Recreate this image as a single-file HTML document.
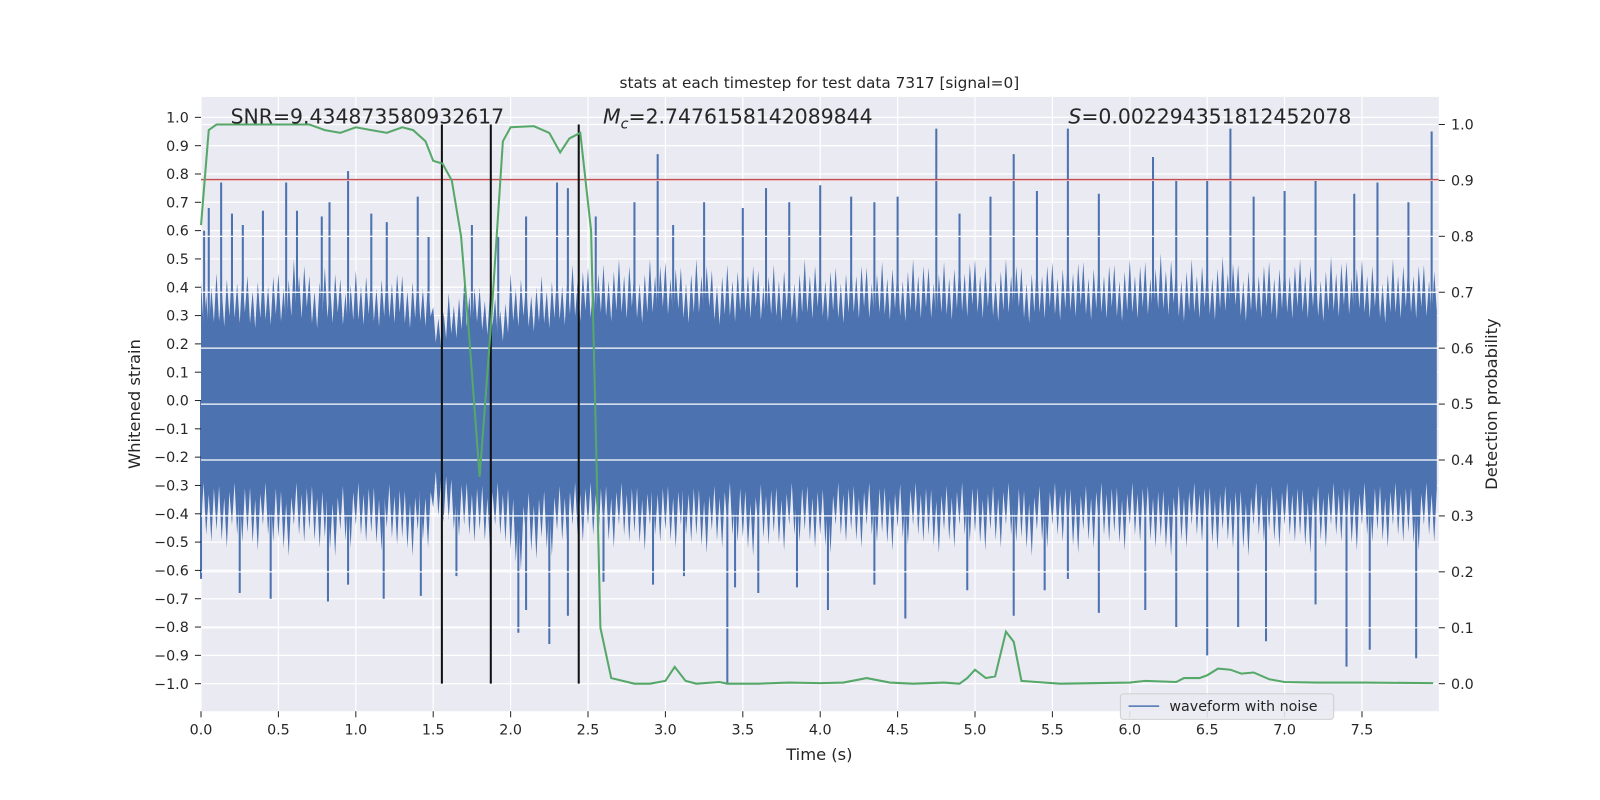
<!DOCTYPE html>
<html><head><meta charset="utf-8"><style>
html,body{margin:0;padding:0;background:#fff;overflow:hidden;}
svg{display:block;}
svg text{font-family:"DejaVu Sans","Liberation Sans",sans-serif;fill:#262626;}
</style></head><body>
<svg id="c" width="1600" height="800" viewBox="0 0 1568 784" xmlns="http://www.w3.org/2000/svg">
<rect x="197" y="95" width="1213" height="602" fill="#eaeaf2"/>
<g id="gridL"></g><g id="wave"></g><g id="gridR"></g><g id="lines"></g><g id="axes"></g>
<text x="803" y="86" font-size="15" text-anchor="middle">stats at each timestep for test data 7317 [signal=0]</text>
<text x="226" y="121" font-size="20">SNR=9.434873580932617</text>
<text x="591" y="121" font-size="20"><tspan font-style="italic">M</tspan><tspan font-style="italic" font-size="14" dy="5">c</tspan><tspan dy="-5">=2.7476158142089844</tspan></text>
<text x="1047" y="121" font-size="20"><tspan font-style="italic">S</tspan>=0.002294351812452078</text>
<text x="803" y="745" font-size="16" text-anchor="middle">Time (s)</text>
<text transform="translate(137,396) rotate(-90)" font-size="16" text-anchor="middle">Whitened strain</text>
<text transform="translate(1467,396) rotate(-90)" font-size="16" text-anchor="middle">Detection probability</text>
<g>
<rect x="1098" y="680" width="209" height="25" rx="3" fill="#eaeaf2" stroke="#ccc" opacity="0.9"/>
<line x1="1106" y1="692" x2="1136" y2="692" stroke="#4c72b0" stroke-width="1.5"/>
<text x="1146" y="697" font-size="14">waveform with noise</text>
</g>
</svg>
<script>
const xTicks=[0,0.5,1,1.5,2,2.5,3,3.5,4,4.5,5,5.5,6,6.5,7,7.5];
const yTicks=[-1,-0.9,-0.8,-0.7,-0.6,-0.5,-0.4,-0.3,-0.2,-0.1,0,0.1,0.2,0.3,0.4,0.5,0.6,0.7,0.8,0.9,1];
const pTicks=[0,0.1,0.2,0.3,0.4,0.5,0.6,0.7,0.8,0.9,1];
// upper/lower envelope of strain every 0.1 s
const envUp=[0.42,0.45,0.47,0.44,0.46,0.45,0.5,0.44,0.47,0.43,0.46,0.45,0.47,0.44,0.45,0.33,0.38,0.42,0.4,0.36,0.45,0.42,0.44,0.46,0.48,0.47,0.48,0.5,0.47,0.5,0.49,0.47,0.5,0.46,0.48,0.5,0.46,0.48,0.47,0.5,0.48,0.47,0.5,0.47,0.49,0.48,0.5,0.47,0.49,0.51,0.5,0.48,0.5,0.47,0.5,0.49,0.51,0.49,0.5,0.48,0.5,0.49,0.52,0.48,0.5,0.49,0.51,0.48,0.5,0.49,0.5,0.5,0.48,0.51,0.49,0.5,0.47,0.5,0.5,0.48];
const envLo=[-0.5,-0.52,-0.5,-0.53,-0.5,-0.55,-0.5,-0.52,-0.55,-0.52,-0.5,-0.53,-0.51,-0.55,-0.52,-0.43,-0.48,-0.5,-0.52,-0.5,-0.6,-0.56,-0.55,-0.52,-0.5,-0.5,-0.52,-0.5,-0.53,-0.5,-0.52,-0.5,-0.54,-0.52,-0.5,-0.55,-0.51,-0.53,-0.5,-0.52,-0.54,-0.5,-0.52,-0.5,-0.53,-0.51,-0.5,-0.54,-0.52,-0.5,-0.53,-0.52,-0.5,-0.55,-0.52,-0.5,-0.54,-0.52,-0.5,-0.53,-0.5,-0.52,-0.55,-0.52,-0.5,-0.53,-0.52,-0.55,-0.5,-0.52,-0.5,-0.54,-0.52,-0.5,-0.53,-0.5,-0.52,-0.5,-0.53,-0.5];
const spikeT=[0.02,0.05,0.13,0.2,0.27,0.4,0.55,0.62,0.78,0.83,0.95,1.1,1.2,1.4,1.47,1.75,1.92,2.1,2.3,2.37,2.55,2.8,2.95,3.05,3.25,3.5,3.65,3.8,4.0,4.2,4.35,4.5,4.75,4.9,5.1,5.25,5.4,5.6,5.8,6.15,6.3,6.5,6.65,6.8,7.0,7.2,7.45,7.6,7.8,7.95];
const spikeV=[0.6,0.68,0.77,0.66,0.62,0.67,0.77,0.67,0.65,0.7,0.81,0.66,0.63,0.72,0.58,0.62,0.58,0.65,0.77,0.75,0.65,0.7,0.87,0.62,0.7,0.68,0.75,0.7,0.76,0.72,0.7,0.72,0.96,0.66,0.72,0.87,0.74,0.96,0.73,0.86,0.78,0.78,0.96,0.72,0.74,0.78,0.73,0.77,0.7,0.95];
const dipT=[0.0,0.25,0.45,0.82,0.95,1.18,1.42,1.65,2.05,2.1,2.25,2.37,2.6,2.92,3.12,3.4,3.45,3.6,3.85,4.05,4.35,4.55,4.95,5.25,5.45,5.6,5.8,6.1,6.3,6.5,6.7,6.88,7.2,7.4,7.55,7.85];
const dipV=[-0.63,-0.68,-0.7,-0.71,-0.65,-0.7,-0.69,-0.62,-0.82,-0.74,-0.86,-0.76,-0.64,-0.65,-0.62,-1.0,-0.66,-0.68,-0.66,-0.74,-0.65,-0.77,-0.67,-0.76,-0.67,-0.63,-0.75,-0.74,-0.8,-0.9,-0.8,-0.85,-0.72,-0.94,-0.88,-0.91];
const probT=[0,0.05,0.1,0.3,0.7,0.8,0.9,1.0,1.1,1.2,1.3,1.37,1.45,1.5,1.56,1.62,1.68,1.73,1.8,1.87,1.95,2.0,2.15,2.25,2.32,2.38,2.45,2.52,2.58,2.65,2.8,2.9,3.0,3.06,3.13,3.2,3.35,3.4,3.6,3.8,4.0,4.15,4.3,4.45,4.6,4.8,4.9,4.95,5.0,5.07,5.13,5.2,5.25,5.3,5.4,5.55,6.0,6.1,6.3,6.35,6.45,6.5,6.57,6.65,6.72,6.8,6.9,7.0,7.2,7.5,7.96];
const probV=[0.82,0.99,1.0,1.0,1.0,0.99,0.985,0.995,0.99,0.985,0.995,0.99,0.97,0.935,0.93,0.9,0.8,0.63,0.37,0.63,0.97,0.995,0.997,0.985,0.95,0.975,0.985,0.81,0.1,0.01,0.0,0.0,0.005,0.03,0.005,0.0,0.003,0.0,0.0,0.002,0.001,0.002,0.01,0.002,0.0,0.002,0.0,0.01,0.025,0.01,0.013,0.093,0.075,0.005,0.003,0.0,0.002,0.005,0.003,0.01,0.01,0.015,0.027,0.025,0.018,0.02,0.008,0.003,0.002,0.002,0.001];
const threshold=0.78;
const markers=[1.556,1.872,2.44];

const NS='http://www.w3.org/2000/svg';
const X=t=>197+t*151.7;
const Y=v=>392.5-v*277.5;
const P=p=>670-p*548;
function mk(tag,attrs,parent){const e=document.createElementNS(NS,tag);for(const k in attrs)e.setAttribute(k,attrs[k]);document.getElementById(parent).appendChild(e);return e;}
xTicks.forEach(t=>{
 let l=mk('line',{x1:X(t),x2:X(t),y1:95,y2:697,stroke:'#fff','stroke-width':1.2},'gridL');
 
 
 let tx=mk('text',{x:X(t),y:720,'font-size':14,'text-anchor':'middle'},'axes');tx.textContent=t.toFixed(1);
 
 
});
yTicks.forEach(v=>{
 let l=mk('line',{x1:197,x2:1410,y1:Y(v),y2:Y(v),stroke:'#fff','stroke-width':1.2},'gridL');
 
 
 let tx=mk('text',{x:185,y:Y(v)+5,'font-size':14,'text-anchor':'end'},'axes');tx.textContent=(v<0?'\u2212':'')+Math.abs(v).toFixed(1);
 
 
 let tk=mk('line',{x1:191,x2:197,y1:Y(v),y2:Y(v),stroke:'#262626'},'axes');
 
 
});
pTicks.forEach(p=>{
 let l=mk('line',{x1:197,x2:1410,y1:P(p),y2:P(p),stroke:'#fff','stroke-width':1.2},'gridR');
 
 
 let tx=mk('text',{x:1422,y:P(p)+5,'font-size':14},'axes');tx.textContent=p.toFixed(1);
 
 
 let tk=mk('line',{x1:1410,x2:1416,y1:P(p),y2:P(p),stroke:'#262626'},'axes');
 
 
});
// waveform envelope (jagged styling inside each 0.1 s bin)
const jag=[1,0.62,0.88,0.58,0.95,0.66];
let pts=[];
envUp.forEach((v,i)=>{jag.forEach((f,k)=>pts.push(X(i*0.1+k*0.1/jag.length)+','+Y(v*f)));});
for(let i=envLo.length-1;i>=0;i--){for(let k=jag.length-1;k>=0;k--)pts.push(X(i*0.1+k*0.1/jag.length)+','+Y(envLo[i]*jag[(k+2)%jag.length]));}
let env=mk('polygon',{points:pts.join(' '),fill:'#4c72b0'},'wave');


spikeT.forEach((t,i)=>{
 let l=mk('line',{x1:X(t),x2:X(t),y1:Y(0),y2:Y(spikeV[i]),stroke:'#4c72b0','stroke-width':2},'wave');
 
 
});
dipT.forEach((t,i)=>{
 let l=mk('line',{x1:X(t),x2:X(t),y1:Y(0),y2:Y(dipV[i]),stroke:'#4c72b0','stroke-width':2},'wave');
 
 
});
let th=mk('line',{x1:197,x2:1410,y1:Y(threshold),y2:Y(threshold),stroke:'#c44e52','stroke-width':1.5},'lines');


markers.forEach(t=>{
 let l=mk('line',{x1:X(t),x2:X(t),y1:P(1),y2:P(0),stroke:'#111','stroke-width':2},'lines');
 
 
});
let pl=mk('polyline',{points:probT.map((t,i)=>X(t)+','+P(probV[i])).join(' '),fill:'none',stroke:'#55a868','stroke-width':2},'lines');


xTicks.forEach(t=>{
 let tk=mk('line',{x1:X(t),x2:X(t),y1:697,y2:703,stroke:'#262626'},'axes');
 
 
});
</script>
</body></html>
